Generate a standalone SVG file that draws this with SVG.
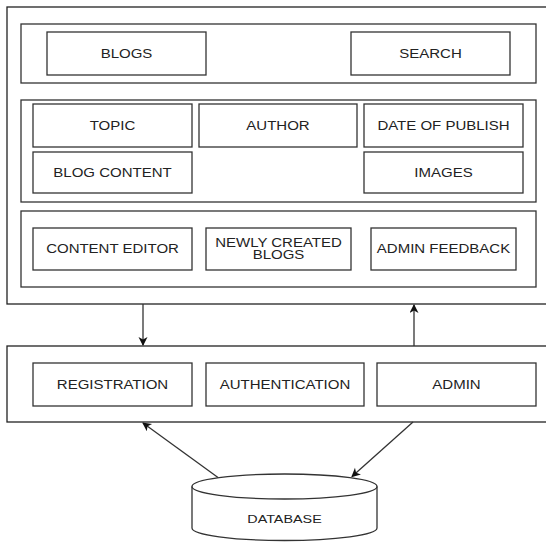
<svg xmlns="http://www.w3.org/2000/svg" width="546" height="542" viewBox="0 0 546 542">
<style>
.frame{fill:#fff;stroke:#222;stroke-width:1.3}
.panel{fill:none;stroke:#333;stroke-width:1.3}
.box{fill:#fff;stroke:#333;stroke-width:1.3}
.lbl{font-family:"Liberation Sans",Arial,sans-serif;font-size:12px;fill:#222;text-anchor:middle}
.conn{stroke:#333;stroke-width:1.3;fill:none}
</style>
<defs>
<marker id="ah" markerUnits="userSpaceOnUse" markerWidth="10" markerHeight="10" refX="8" refY="4.5" orient="auto">
<path d="M0,0 L9,4.5 L0,9 L2.5,4.5 Z" fill="#111"/>
</marker>
</defs>
<rect width="546" height="542" fill="#fff"/>
<g id="frontend">
<rect class="frame" x="7" y="7" width="545" height="297"/>
</g>
<g id="header-panel">
<rect class="panel" x="21" y="24" width="515" height="59"/>
</g>
<g id="blogs"><rect class="box" x="47" y="32" width="159" height="43"/><text class="lbl" transform="translate(126.5,58) scale(1.25,1)">BLOGS</text></g>
<g id="search"><rect class="box" x="351" y="32" width="159" height="43"/><text class="lbl" transform="translate(430.5,58) scale(1.25,1)">SEARCH</text></g>
<g id="blog-panel">
<rect class="panel" x="21" y="100" width="515" height="102"/>
</g>
<g id="topic"><rect class="box" x="33" y="104" width="159" height="43"/><text class="lbl" transform="translate(112.5,130) scale(1.25,1)">TOPIC</text></g>
<g id="author"><rect class="box" x="199" y="104" width="158" height="43"/><text class="lbl" transform="translate(278,130) scale(1.25,1)">AUTHOR</text></g>
<g id="date"><rect class="box" x="364" y="104" width="159" height="43"/><text class="lbl" transform="translate(443.5,130) scale(1.25,1)">DATE OF PUBLISH</text></g>
<g id="blog-content"><rect class="box" x="33" y="152" width="159" height="41"/><text class="lbl" transform="translate(112.5,177) scale(1.25,1)">BLOG CONTENT</text></g>
<g id="images"><rect class="box" x="364" y="152" width="159" height="41"/><text class="lbl" transform="translate(443.5,177) scale(1.25,1)">IMAGES</text></g>
<g id="editor-panel">
<rect class="panel" x="21" y="211" width="515" height="76"/>
</g>
<g id="content-editor"><rect class="box" x="33" y="228" width="159" height="42"/><text class="lbl" transform="translate(112.5,253) scale(1.25,1)">CONTENT EDITOR</text></g>
<g id="newly-created"><rect class="box" x="206" y="228" width="145" height="42"/><text class="lbl" transform="translate(278.5,246.5) scale(1.25,1)">NEWLY CREATED</text><text class="lbl" transform="translate(278.5,258.5) scale(1.25,1)">BLOGS</text></g>
<g id="admin-feedback"><rect class="box" x="371" y="228" width="145" height="42"/><text class="lbl" transform="translate(443.5,253) scale(1.25,1)">ADMIN FEEDBACK</text></g>
<g id="backend">
<rect class="frame" x="7" y="346" width="545" height="76"/>
</g>
<g id="registration"><rect class="box" x="33" y="363" width="159" height="43"/><text class="lbl" transform="translate(112.5,389) scale(1.25,1)">REGISTRATION</text></g>
<g id="authentication"><rect class="box" x="206" y="363" width="158" height="43"/><text class="lbl" transform="translate(285,389) scale(1.25,1)">AUTHENTICATION</text></g>
<g id="admin"><rect class="box" x="377" y="363" width="159" height="43"/><text class="lbl" transform="translate(456.5,389) scale(1.25,1)">ADMIN</text></g>
<g id="database">
<path class="box" d="M192,486.5 L192,528 A92.5,12.5 0 0 0 377,528 L377,486.5 A92.5,12.5 0 0 0 192,486.5 Z"/>
<path class="conn" d="M192,486.5 A92.5,12.5 0 0 0 377,486.5"/>
<text class="lbl" transform="translate(284.5,522.5) scale(1.25,1)" style="font-size:11.5px">DATABASE</text>
</g>
<g id="connectors">
<line class="conn" x1="143" y1="304" x2="143" y2="345" marker-end="url(#ah)"/>
<line class="conn" x1="414" y1="346" x2="414" y2="305" marker-end="url(#ah)"/>
<line class="conn" x1="218" y1="477.5" x2="143" y2="423" marker-end="url(#ah)"/>
<line class="conn" x1="413" y1="422" x2="352" y2="476.5" marker-end="url(#ah)"/>
</g>
</svg>
